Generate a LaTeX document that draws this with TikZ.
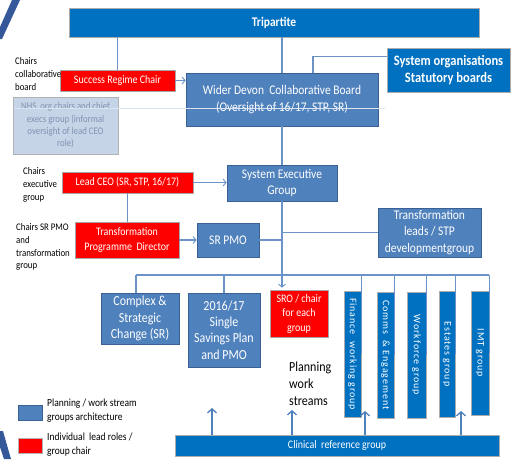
\documentclass[tikz,border=0pt]{standalone}
\usepackage{fontspec}
\setmainfont{Carlito}[FakeStretch=0.87]
\newfontfamily\spacedfont[LetterSpace=9]{Carlito}
\usetikzlibrary{arrows.meta,calc}
\definecolor{steel}{HTML}{4F81BD}
\definecolor{steeledge}{HTML}{3A6096}
\definecolor{vivid}{HTML}{0070C0}
\definecolor{lineblue}{HTML}{6C93C7}
\definecolor{paleblue}{HTML}{C6D4E8}
\definecolor{nhstext}{HTML}{8092B0}
\definecolor{stripe}{HTML}{34589A}
\definecolor{ghost}{HTML}{DCE4F1}
% condensed face, so sizes are enlarged to keep the same line widths
\newcommand{\fs}[2]{\fontsize{\fpeval{#1*1.15}pt}{#2pt}\selectfont}
\newcommand{\vfs}[2]{\fontsize{#1pt}{#2pt}\selectfont}
\begin{document}
\begin{tikzpicture}[x=1pt,y=-1pt,
  base/.style={rectangle, inner sep=1pt, align=center, text=white, line width=0.7pt},
  sbox/.style={base, draw=steeledge, fill=steel},
  vbox/.style={base, draw=gray!65, fill=vivid},
  rbox/.style={base, draw=gray!70, fill=red},
  conn/.style={draw=lineblue, line width=1.1pt},
  arr/.style={conn, -{Straight Barb[length=3pt,width=7pt,line width=0.9pt]}},
  uparr/.style={draw=steel, line width=1.6pt, -{Straight Barb[length=4pt,width=9pt,line width=1.3pt]}},
  side/.style={align=left, anchor=west, inner sep=0pt, font=\fs{8.8}{12.7}},
  vtext/.style={vbox, rotate=-90, font=\spacedfont\vfs{10}{12}},
]
\useasboundingbox (0,0) rectangle (511,459);

% corner stripes
\fill[stripe] (12,0) -- (20,0) -- (2,39) -- (0,39) -- (0,27) -- cycle;
\fill[stripe] (0,431) -- (3,431) -- (11,459) -- (4,459) -- (0,447) -- cycle;

% top level
\node[vbox, minimum width=410pt, minimum height=29pt, font=\bfseries\fs{11.5}{14}] (tri) at (274,22.5) {Tripartite};
\node[vbox, minimum width=123pt, minimum height=44pt, font=\bfseries\fs{12.5}{17}] (sys) at (448.5,70) {System organisations\\Statutory boards};
\node[sbox, minimum width=192pt, minimum height=53pt, font=\fs{11.5}{16.5}] (wdcb) at (282,99.5) {Wider Devon\ \ Collaborative Board\\(Oversight of 16/17, STP, SR)};

% lead roles
\node[rbox, minimum width=115pt, minimum height=21pt, font=\fs{10}{12}] (src) at (117.5,80.5) {Success Regime Chair};
\node[base, draw=gray!60, fill=paleblue, text=nhstext, minimum width=105pt, minimum height=57pt, font=\fs{8.8}{12.4}] (nhs) at (65.5,125.5) {NHS\ \ org chairs and chief\\execs group (informal\\oversight of lead CEO\\role)};
\node[rbox, minimum width=131pt, minimum height=21pt, font=\fs{10}{12}] (ceo) at (127.5,182.5) {Lead CEO (SR, STP, 16/17)};
\node[sbox, minimum width=110pt, minimum height=36pt, font=\fs{11.5}{16.5}] (seg) at (282,183) {System Executive\\Group};
\node[rbox, minimum width=104pt, minimum height=36pt, font=\fs{10}{15}] (tpd) at (127,240) {Transformation\\Programme\ \ Director};
\node[sbox, minimum width=62pt, minimum height=34pt, font=\fs{11.5}{14}] (srpmo) at (228,240) {SR PMO};
\node[sbox, minimum width=103pt, minimum height=49pt, font=\fs{11.5}{16.5}] (tlead) at (429.5,232.5) {Transformation\\leads / STP\\developmentgroup};

% side notes
\node[side] (n1) at (15,74) {Chairs\\collaborative\\board};
\node[side] (n2) at (23,185) {Chairs\\executive\\group};
\node[side] (n3) at (16,247) {Chairs SR PMO\\and\\transformation\\group};

% work stream groups
\node[sbox, minimum width=78pt, minimum height=51pt, font=\fs{12}{16.5}] (csc) at (140,318.5) {Complex \&\\Strategic\\Change (SR)};
\node[sbox, minimum width=72pt, minimum height=74pt, font=\fs{12}{16.3}] (ssp) at (224,330) {2016/17\\Single\\Savings Plan\\and PMO};
\node[rbox, minimum width=58pt, minimum height=47pt, font=\fs{10}{14.5}] (sro) at (299,313.5) {SRO / chair\\for each\\group};
\node[vtext, minimum width=126pt, minimum height=17pt] (fin) at (352.5,354) {Finance\ \ working group};
\node[vtext, minimum width=126pt, minimum height=17pt] (com) at (385.5,355) {Comms\ \ \& Engagement};
\node[vtext, minimum width=126pt, minimum height=19pt] (wfg) at (416.5,355) {Workforce group};
\node[vtext, minimum width=126pt, minimum height=16pt] (est) at (447,354) {Estates group};
\node[vtext, minimum width=124pt, minimum height=18pt] (imt) at (480,353) {IMT group};
\node[align=left, anchor=west, inner sep=0pt, font=\fs{12}{17}] (plan) at (289,384) {Planning\\work\\streams};
\node[vbox, minimum width=324pt, minimum height=21pt, font=\fs{10}{12}] (crg) at (337,445.5) {Clinical\ \ reference group};

% legend
\node[sbox, minimum width=24pt, minimum height=15pt] (lg1) at (30,413) {};
\node[rbox, draw=gray!60, minimum width=24pt, minimum height=15pt] (lg2) at (30,446) {};
\node[align=left, anchor=west, inner sep=0pt, font=\fs{9.5}{14}] (lt1) at (47,411) {Planning / work stream\\groups architecture};
\node[align=left, anchor=west, inner sep=0pt, font=\fs{9.5}{14}] (lt2) at (47,445) {Individual\ \ lead roles /\\group chair};

% connectors
\draw[conn] (src.north) -- (src.north |- tri.south);
\draw[conn] (wdcb.north) -- (wdcb.north |- tri.south);
\draw[conn] ($(sys.north west)+(0,9)$) -| ($(wdcb.north)+(31,0)$);
\draw[arr] (src.east) -- (src.east -| wdcb.west);
\draw[conn] ($(src.south)+(25.5,0)$) -- ($(src.south)+(25.5,0)$ |- ceo.north);
\draw[conn, dashed, dash pattern=on 4pt off 3pt] ($(nhs.south)+(20.5,0)$) -- ($(nhs.south)+(20.5,0)$ |- ceo.north);
\draw[conn] (wdcb.south) -- (seg.north);
\draw[arr] (ceo.east) -- (ceo.east -| seg.west);
\draw[conn] (ceo.south) -- (ceo.south |- tpd.north);
\draw[arr] (tpd.east) -- (tpd.east -| srpmo.west);
\draw[conn] (srpmo.east) -- (srpmo.east -| seg.south);
\draw[conn] (seg.south |- tlead.west) -- (tlead.west);
\draw[arr] (seg.south) -- ($(seg.south |- sro.north)+(0,-2)$);

% bus to the planning groups
\coordinate (busL) at (136,275);
\draw[conn] (busL) -- (busL -| imt.north);
\draw[conn] (busL) -- (busL |- csc.north);
\draw[conn] ($(tpd.south)+(-10,0)$) -- ($(tpd.south)+(-10,0)$ |- csc.north);
\foreach \g in {ssp,fin,com,wfg,est,imt}
  \draw[conn] (\g.north) -- (\g.north |- busL);

% clinical reference inputs
\coordinate (u1) at (212,408);
\coordinate (u2) at (292,410);
\coordinate (u3) at (365,411);
\coordinate (u4) at (461,411);
\foreach \u in {u1,u2,u3,u4}
  \draw[uparr] (\u |- crg.north) -- (\u);

% faint rule across the upper boxes
\coordinate (gL) at (14,108);
\coordinate (gR) at (385,108);
\draw[ghost, line width=0.6pt] (gL) -- (gR);
\end{tikzpicture}
\end{document}
